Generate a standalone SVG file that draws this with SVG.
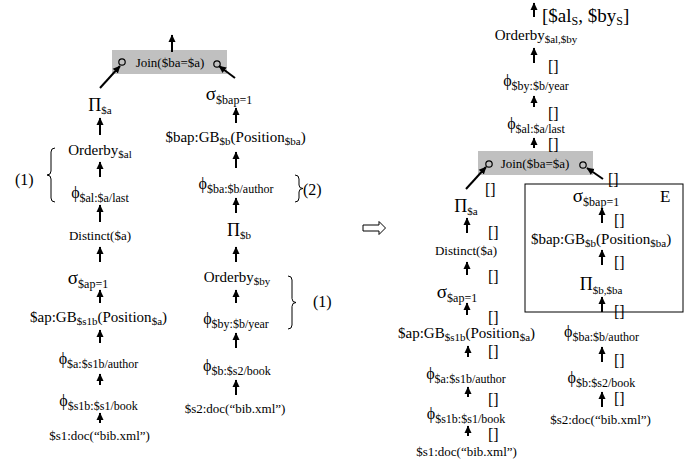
<svg xmlns="http://www.w3.org/2000/svg" width="697" height="459" viewBox="0 0 697 459">
<style>
text{font-family:"Liberation Serif","Times New Roman",serif;fill:#000}
.c{text-anchor:middle}
.m{font-size:15px}
.sm{font-size:13px}
.g{font-size:18px}
.sg{font-size:19px}
.ph{font-size:16px}
.s{font-size:11px}
.s12{font-size:12px}
.br{font-size:16px}
.ar{stroke:#000;stroke-width:2;fill:none;marker-end:url(#ah)}
.join{fill:#c0c0c0}
.port{fill:none;stroke:#000;stroke-width:1.2}
.brace{fill:none;stroke:#000;stroke-width:1}
</style>
<defs>
<marker id="ah" markerUnits="userSpaceOnUse" markerWidth="8" markerHeight="8" refX="7" refY="4" orient="auto">
<path d="M0,0.5 L7.5,4 L0,7.5 Z" fill="#000"/>
</marker>
</defs>

<!-- LEFT PLAN -->
<g id="L_join">
<rect class="join" x="112" y="50" width="115" height="24"/>
<text class="c sm" x="170" y="67">Join($ba=$a)</text>
<circle class="port" cx="122" cy="62" r="3.2"/>
<circle class="port" cx="217" cy="64" r="3.2"/>
</g>
<g id="L_pia"><text class="c g" x="100" y="111">Π<tspan class="s" dy="3">$a</tspan></text></g>
<g id="L_orderby_al"><text class="c m" x="100" y="155">Orderby<tspan class="s" dy="3">$al</tspan></text></g>
<g id="L_phi_al"><text class="c ph" x="100" y="198">ϕ<tspan class="s12" dy="4">$al:$a/last</tspan></text></g>
<g id="L_distinct"><text class="c sm" x="100" y="240">Distinct($a)</text></g>
<g id="L_sigma_ap"><text class="c sg" x="88" y="284">σ<tspan class="s12" dy="4">$ap=1</tspan></text></g>
<g id="L_gb_ap"><text class="c m" x="98.5" y="322">$ap:GB<tspan class="s" dy="3">$s1b</tspan><tspan dy="-3">(Position</tspan><tspan class="s" dy="3">$a</tspan><tspan dy="-3">)</tspan></text></g>
<g id="L_phi_a"><text class="c ph" x="98.5" y="364">ϕ<tspan class="s12" dy="4">$a:$s1b/author</tspan></text></g>
<g id="L_phi_s1b"><text class="c ph" x="98.5" y="406">ϕ<tspan class="s12" dy="4">$s1b:$s1/book</tspan></text></g>
<g id="L_doc1"><text class="c sm" x="99.5" y="440">$s1:doc(“bib.xml”)</text></g>

<g id="L_sigma_bap"><text class="c sg" x="229" y="100">σ<tspan class="s12" dy="4">$bap=1</tspan></text></g>
<g id="L_gb_bap"><text class="c m" x="235.5" y="142">$bap:GB<tspan class="s" dy="3">$b</tspan><tspan dy="-3">(Position</tspan><tspan class="s" dy="3">$ba</tspan><tspan dy="-3">)</tspan></text></g>
<g id="L_phi_ba"><text class="c ph" x="236" y="189">ϕ<tspan class="s12" dy="4">$ba:$b/author</tspan></text></g>
<g id="L_pib"><text class="c g" x="239" y="236">Π<tspan class="s" dy="3">$b</tspan></text></g>
<g id="L_orderby_by"><text class="c m" x="237" y="282">Orderby<tspan class="s" dy="3">$by</tspan></text></g>
<g id="L_phi_by"><text class="c ph" x="236" y="324">ϕ<tspan class="s12" dy="4">$by:$b/year</tspan></text></g>
<g id="L_phi_b"><text class="c ph" x="237" y="371">ϕ<tspan class="s12" dy="4">$b:$s2/book</tspan></text></g>
<g id="L_doc2"><text class="c sm" x="235" y="413">$s2:doc(“bib.xml”)</text></g>

<g id="L_annot">
<path class="brace" d="M55,148 Q51,148 51,152 L51,171 Q51,175 47,175 Q51,175 51,179 L51,198 Q51,202 55,202"/>
<text class="br" x="15" y="185">(1)</text>
<path class="brace" d="M295,175 Q299,175 299,179 L299,185 Q299,188.5 303,188.5 Q299,188.5 299,192 L299,198 Q299,202 295,202"/>
<text class="br" x="303" y="195">(2)</text>
<path class="brace" d="M288,276 Q292,276 292,280 L292,298.5 Q292,302.5 296,302.5 Q292,302.5 292,306.5 L292,325 Q292,329 288,329"/>
<text class="br" x="313" y="307">(1)</text>
</g>

<g id="transform_arrow">
<path d="M363,225 H379 V221.5 L385.5,228 L379,234.5 V231 H363 Z" fill="#fff" stroke="#000" stroke-width="1"/>
</g>

<!-- RIGHT PLAN -->
<g id="R_out"><text class="sg" x="542" y="22">[$al<tspan class="s12" dy="3">S</tspan><tspan dy="-3">, $by</tspan><tspan class="s12" dy="3">S</tspan><tspan dy="-3">]</tspan></text></g>
<g id="R_orderby"><text class="c m" x="536" y="40">Orderby<tspan class="s" dy="3">$al,$by</tspan></text></g>
<g id="R_phi_by"><text class="c ph" x="536" y="86">ϕ<tspan class="s12" dy="4">$by:$b/year</tspan></text></g>
<g id="R_phi_al"><text class="c ph" x="536" y="129">ϕ<tspan class="s12" dy="4">$al:$a/last</tspan></text></g>
<g id="R_join">
<rect class="join" x="478" y="151" width="115" height="24"/>
<text class="c sm" x="535" y="168">Join($ba=$a)</text>
<circle class="port" cx="489" cy="164" r="3.2"/>
<circle class="port" cx="583" cy="165" r="3.2"/>
</g>
<g id="R_pia"><text class="c g" x="466" y="212">Π<tspan class="s" dy="3">$a</tspan></text></g>
<g id="R_distinct"><text class="c sm" x="466" y="255">Distinct($a)</text></g>
<g id="R_sigma_ap"><text class="c sg" x="457" y="298">σ<tspan class="s12" dy="4">$ap=1</tspan></text></g>
<g id="R_gb_ap"><text class="c m" x="466.5" y="338">$ap:GB<tspan class="s" dy="3">$s1b</tspan><tspan dy="-3">(Position</tspan><tspan class="s" dy="3">$a</tspan><tspan dy="-3">)</tspan></text></g>
<g id="R_phi_a"><text class="c ph" x="466" y="379">ϕ<tspan class="s12" dy="4">$a:$s1b/author</tspan></text></g>
<g id="R_phi_s1b"><text class="c ph" x="466" y="419">ϕ<tspan class="s12" dy="4">$s1b:$s1/book</tspan></text></g>
<g id="R_doc1"><text class="c sm" x="466.5" y="456">$s1:doc(“bib.xml”)</text></g>

<g id="R_E">
<rect x="525" y="184" width="158" height="128" fill="none" stroke="#000" stroke-width="1"/>
<text class="br" x="660" y="202" style="font-size:17px">E</text>
</g>
<g id="R_sigma_bap"><text class="c sg" x="596" y="202">σ<tspan class="s12" dy="4">$bap=1</tspan></text></g>
<g id="R_gb_bap"><text class="c m" x="601" y="244">$bap:GB<tspan class="s" dy="3">$b</tspan><tspan dy="-3">(Position</tspan><tspan class="s" dy="3">$ba</tspan><tspan dy="-3">)</tspan></text></g>
<g id="R_pib"><text class="c g" x="601" y="290">Π<tspan class="s" dy="4">$b,$ba</tspan></text></g>
<g id="R_phi_ba"><text class="c ph" x="601.5" y="337">ϕ<tspan class="s12" dy="4">$ba:$b/author</tspan></text></g>
<g id="R_phi_b"><text class="c ph" x="601.5" y="383">ϕ<tspan class="s12" dy="4">$b:$s2/book</tspan></text></g>
<g id="R_doc2"><text class="c sm" x="600.5" y="424">$s2:doc(“bib.xml”)</text></g>

<g id="R_schemas" class="br">
<text x="548" y="72">[]</text>
<text x="548" y="119">[]</text>
<text x="548" y="150">[]</text>
<text x="608" y="185">[]</text>
<text x="485" y="195">[]</text>
<text x="488" y="238">[]</text>
<text x="488" y="282">[]</text>
<text x="488" y="323">[]</text>
<text x="488" y="357">[]</text>
<text x="488" y="405">[]</text>
<text x="488" y="440">[]</text>
<text x="614" y="226">[]</text>
<text x="614" y="268">[]</text>
<text x="614" y="317">[]</text>
<text x="614" y="366">[]</text>
<text x="614" y="404">[]</text>
</g>

<g id="connectors">
<line class="ar" x1="172" y1="52" x2="172" y2="35"/>
<line class="ar" x1="100" y1="88" x2="120" y2="66"/>
<line class="ar" x1="235" y1="78" x2="219" y2="66"/>
<line class="ar" x1="100" y1="135" x2="100" y2="118"/>
<line class="ar" x1="100" y1="177" x2="100" y2="162"/>
<line class="ar" x1="100" y1="222" x2="100" y2="205"/>
<line class="ar" x1="100" y1="262" x2="100" y2="247"/>
<line class="ar" x1="100" y1="303" x2="100" y2="290"/>
<line class="ar" x1="100" y1="343" x2="100" y2="330"/>
<line class="ar" x1="100" y1="385" x2="100" y2="374"/>
<line class="ar" x1="100" y1="423" x2="100" y2="413"/>
<line class="ar" x1="236" y1="123" x2="236" y2="108"/>
<line class="ar" x1="236" y1="168" x2="236" y2="152"/>
<line class="ar" x1="236" y1="213" x2="236" y2="198"/>
<line class="ar" x1="236" y1="262" x2="236" y2="247"/>
<line class="ar" x1="236" y1="303" x2="236" y2="290"/>
<line class="ar" x1="236" y1="348" x2="236" y2="333"/>
<line class="ar" x1="236" y1="395" x2="236" y2="380"/>

<line class="ar" x1="534" y1="17" x2="534" y2="3"/>
<line class="ar" x1="534" y1="63" x2="534" y2="48"/>
<line class="ar" x1="534" y1="107" x2="534" y2="96"/>
<line class="ar" x1="534" y1="148" x2="534" y2="138"/>
<line class="ar" x1="466" y1="189" x2="486" y2="167"/>
<line class="ar" x1="603" y1="179" x2="587" y2="168"/>
<line class="ar" x1="467" y1="233" x2="467" y2="218"/>
<line class="ar" x1="467" y1="275" x2="467" y2="262"/>
<line class="ar" x1="467" y1="315" x2="467" y2="303"/>
<line class="ar" x1="468" y1="357" x2="468" y2="346"/>
<line class="ar" x1="468" y1="397" x2="468" y2="387"/>
<line class="ar" x1="468" y1="436" x2="468" y2="426"/>
<line class="ar" x1="602" y1="223" x2="602" y2="208"/>
<line class="ar" x1="602" y1="265" x2="602" y2="250"/>
<line class="ar" x1="602" y1="312" x2="602" y2="297"/>
<line class="ar" x1="602" y1="362" x2="602" y2="347"/>
<line class="ar" x1="602" y1="407" x2="602" y2="392"/>
</g>
</svg>
